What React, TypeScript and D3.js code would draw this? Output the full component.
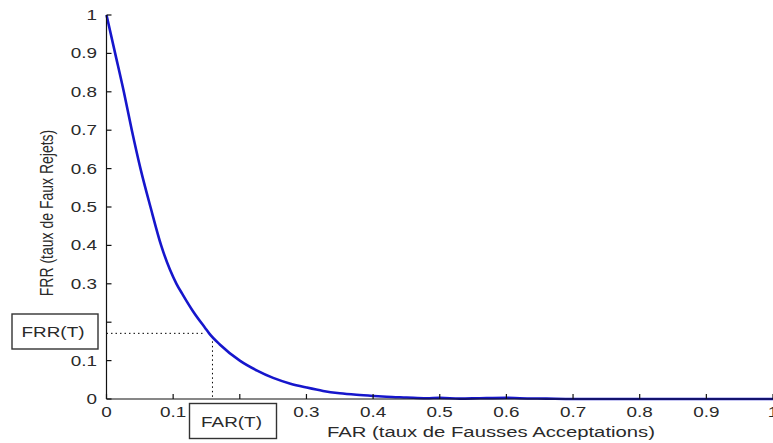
import React from "react";
import * as d3 from "d3";

// ROC-style trade-off curve: false rejection rate vs false acceptance rate
const farValues = [
  0, 0.013, 0.026, 0.038, 0.051, 0.066, 0.082, 0.105, 0.115, 0.13, 0.148,
  0.154, 0.17, 0.2, 0.226, 0.25, 0.276, 0.3, 0.325, 0.35, 0.375, 0.4, 0.42,
  0.45, 0.48, 0.5, 0.53, 0.56, 0.6, 0.62, 0.66, 0.7, 1,
];
const frrValues = [
  1, 0.9, 0.8, 0.7, 0.6, 0.5, 0.4, 0.3, 0.27, 0.228, 0.185,
  0.171, 0.142, 0.1, 0.074, 0.055, 0.04, 0.03, 0.021, 0.015, 0.011, 0.008, 0.006,
  0.004, 0.002, 0.003, 0.001, 0.002, 0.003, 0.002, 0.001, 0, 0,
];
const xTicks = [0, 0.1, 0.2, 0.3, 0.4, 0.5, 0.6, 0.7, 0.8, 0.9, 1];
const yTicks = [0, 0.1, 0.2, 0.3, 0.4, 0.5, 0.6, 0.7, 0.8, 0.9, 1];
const thresholdFar = 0.159;
const thresholdFrr = 0.171;
const xTitle = "FAR (taux de Fausses Acceptations)";
const yTitle = "FRR (taux de Faux Rejets)";
const frrMarker = "FRR(T)";
const farMarker = "FAR(T)";

const W = 773;
const H = 443;
const SX = 1.35; // horizontal stretch of the lettering
const FONT = "'Liberation Sans', Arial, Helvetica, sans-serif";
const TEXT = "#2a2a2a";

export default function App() {
  const x = d3.scaleLinear().domain([0, 1]).range([106.5, 773]);
  const y = d3.scaleLinear().domain([0, 1]).range([399, 15]);

  const pts: [number, number][] = farValues.map((f, i) => [f, frrValues[i]]);
  const line = d3
    .line<[number, number]>()
    .x((d) => x(d[0]))
    .y((d) => y(d[1]))
    .curve(d3.curveMonotoneX);

  const x0 = x(0);
  const y0 = y(0);
  const tx = x(thresholdFar);
  const ty = y(thresholdFrr);

  return (
    <svg
      width={W}
      height={H}
      style={{ position: "absolute", left: 0, top: 0, background: "#fff" }}
      fontFamily={FONT}
    >
      <rect x={0} y={0} width={W} height={H} fill="#fff" />

      {/* threshold guides, stopping just short of the curve */}
      <line x1={x0} y1={ty} x2={tx - 9} y2={ty} stroke="#000" strokeWidth={1} strokeDasharray="1.5 3" />
      <line x1={tx} y1={ty + 8} x2={tx} y2={y0} stroke="#000" strokeWidth={1} strokeDasharray="1.5 3" />

      {/* curve */}
      <path d={line(pts) || ""} fill="none" stroke="#1616cc" strokeWidth={2.6} strokeLinejoin="round" />

      {/* axes */}
      <line x1={x0} y1={y(1)} x2={x0} y2={y0} stroke="#111" strokeWidth={1.2} />
      <line x1={x0} y1={y0} x2={W} y2={y0} stroke="#111" strokeWidth={1.2} />
      {yTicks.map((t) => (
        <g key={"y" + t}>
          <line x1={x0} y1={y(t)} x2={x0 + 5} y2={y(t)} stroke="#111" strokeWidth={1.2} />
          <text
            transform={`translate(97,${y(t) + 5}) scale(${SX},1)`}
            textAnchor="end"
            fontSize={14}
            fill={TEXT}
          >
            {String(t)}
          </text>
        </g>
      ))}
      {xTicks.map((t) => (
        <g key={"x" + t}>
          <line x1={x(t)} y1={y0} x2={x(t)} y2={y0 - 5} stroke="#111" strokeWidth={1.2} />
          <text
            transform={`translate(${x(t)},416.5) scale(${SX},1)`}
            textAnchor="middle"
            fontSize={14}
            fill={TEXT}
          >
            {String(t)}
          </text>
        </g>
      ))}

      {/* axis titles */}
      <text x={327} y={436.5} fontSize={14} fill={TEXT} textLength={328} lengthAdjust="spacingAndGlyphs">
        {xTitle}
      </text>
      <text
        transform={`translate(53,213) scale(${SX},1) rotate(-90)`}
        textAnchor="middle"
        fontSize={14}
        fill={TEXT}
      >
        {yTitle}
      </text>

      {/* threshold markers */}
      <rect x={12} y={314} width={86} height={35} fill="#fff" stroke="#333" strokeWidth={1.4} />
      <text transform={`translate(53,336.5) scale(${SX},1)`} textAnchor="middle" fontSize={14} fill={TEXT}>
        {frrMarker}
      </text>
      <rect x={189.5} y={403.5} width={87} height={35} fill="#fff" stroke="#333" strokeWidth={1.4} />
      <text transform={`translate(231.5,426.5) scale(${SX},1)`} textAnchor="middle" fontSize={14} fill={TEXT}>
        {farMarker}
      </text>
    </svg>
  );
}
